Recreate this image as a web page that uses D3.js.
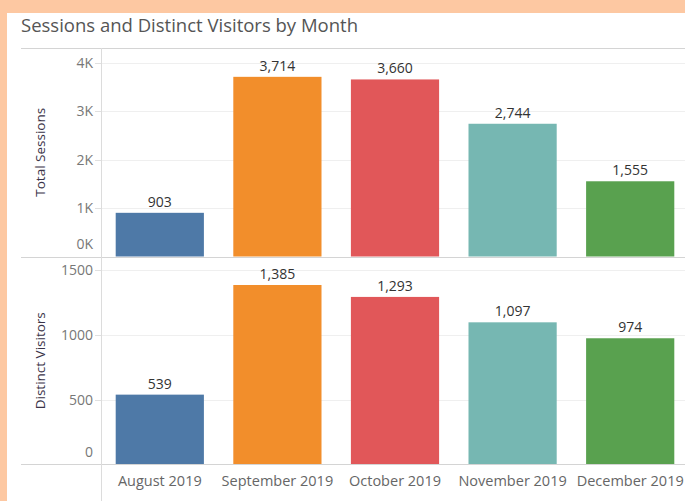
<!DOCTYPE html>
<html>
<head>
<meta charset="utf-8">
<script src="https://cdn.jsdelivr.net/npm/d3@7"></script>
<style>
  html, body { margin: 0; padding: 0; background: #FDC8A2; }
  svg { display: block; }
</style>
</head>
<body>
<svg id="chart" width="685" height="501"></svg>
<script>
const months = ["August 2019", "September 2019", "October 2019", "November 2019", "December 2019"];
const sessions = [903, 3714, 3660, 2744, 1555];
const visitors = [539, 1385, 1293, 1097, 974];
const colors = ["#4E79A7", "#F28E2B", "#E15759", "#76B7B2", "#59A14F"];
const sessionTicks = [0, 1000, 2000, 3000, 4000];
const sessionTickLabels = ["0K", "1K", "2K", "3K", "4K"];
const visitorTicks = [0, 500, 1000, 1500];
const visitorTickLabels = ["0", "500", "1000", "1500"];

const svg = d3.select("#chart");
const W = 685, H = 501;
const font = "'Open Sans', 'Noto Sans', sans-serif";

// white card
svg.append("rect").attr("x", 7).attr("y", 13).attr("width", W - 7).attr("height", H - 13).attr("fill", "#fff");

svg.append("text").attr("x", 21).attr("y", 32)
  .attr("font-family", font).attr("font-size", 18.5).attr("fill", "#555")
  .text("Sessions and Distinct Visitors by Month");

const axisX = 101;
const x = d3.scaleBand().domain(months).range([axisX, 689]).paddingInner(0.25).paddingOuter(0.125);

const panes = [
  { values: sessions, ticks: sessionTicks, labels: sessionTickLabels, top: 48, bottom: 256.5, max: 4310,
    title: "Total Sessions", fmt: d3.format(",") },
  { values: visitors, ticks: visitorTicks, labels: visitorTickLabels, top: 257, bottom: 464.5, max: 1601,
    title: "Distinct Visitors", fmt: d3.format(",") }
];

panes.forEach(p => {
  const y = d3.scaleLinear().domain([0, p.max]).range([p.bottom, p.top]);
  const g = svg.append("g");
  // gridlines
  g.selectAll("line.grid").data(p.ticks.filter(t => t > 0)).join("line")
    .attr("x1", axisX).attr("x2", W).attr("y1", d => Math.round(y(d)) + 0.5).attr("y2", d => Math.round(y(d)) + 0.5)
    .attr("stroke", "#efefef").attr("stroke-width", 1);
  // ticks
  g.selectAll("line.tick").data(p.ticks.filter(t => t > 0)).join("line")
    .attr("x1", axisX - 6).attr("x2", axisX).attr("y1", d => Math.round(y(d)) + 0.5).attr("y2", d => Math.round(y(d)) + 0.5)
    .attr("stroke", "#e0e0e0");
  // tick labels
  g.selectAll("text.tl").data(p.ticks).join("text")
    .attr("x", 93).attr("y", d => d === 0 ? y(d) - 8 : y(d) + 5)
    .attr("text-anchor", "end").attr("font-family", font).attr("font-size", 14).attr("fill", "#777")
    .text((d, i) => p.labels[i]);
  // bars
  g.selectAll("rect").data(p.values).join("rect")
    .attr("x", (d, i) => x(months[i])).attr("width", x.bandwidth())
    .attr("y", d => y(d)).attr("height", d => y(0) - y(d))
    .attr("fill", (d, i) => colors[i]);
  // value labels
  g.selectAll("text.vl").data(p.values).join("text")
    .attr("x", (d, i) => x(months[i]) + x.bandwidth() / 2).attr("y", d => y(d) - 6)
    .attr("text-anchor", "middle").attr("font-family", font).attr("font-size", 14).attr("fill", "#333")
    .text(d => p.fmt(d));
  // axis title
  const cy = (p.top + p.bottom) / 2;
  g.append("text").attr("transform", `translate(45,${cy}) rotate(-90)`)
    .attr("text-anchor", "middle").attr("font-family", font).attr("font-size", 13.5).attr("fill", "#3a3348")
    .text(p.title);
});

// frame lines
[48, 257, 464].forEach(yy => {
  svg.append("line").attr("x1", 21).attr("x2", W).attr("y1", yy + 0.5).attr("y2", yy + 0.5)
    .attr("stroke", "#d4d4d4").attr("stroke-width", 1);
});
svg.append("line").attr("x1", axisX + 0.5).attr("x2", axisX + 0.5).attr("y1", 48).attr("y2", H)
  .attr("stroke", "#dcdcdc");

// x labels
svg.append("g").selectAll("text").data(months).join("text")
  .attr("x", d => x(d) + x.bandwidth() / 2).attr("y", 486)
  .attr("text-anchor", "middle").attr("font-family", font).attr("font-size", 14.5).attr("fill", "#666")
  .text(d => d);
</script>
</body>
</html>
